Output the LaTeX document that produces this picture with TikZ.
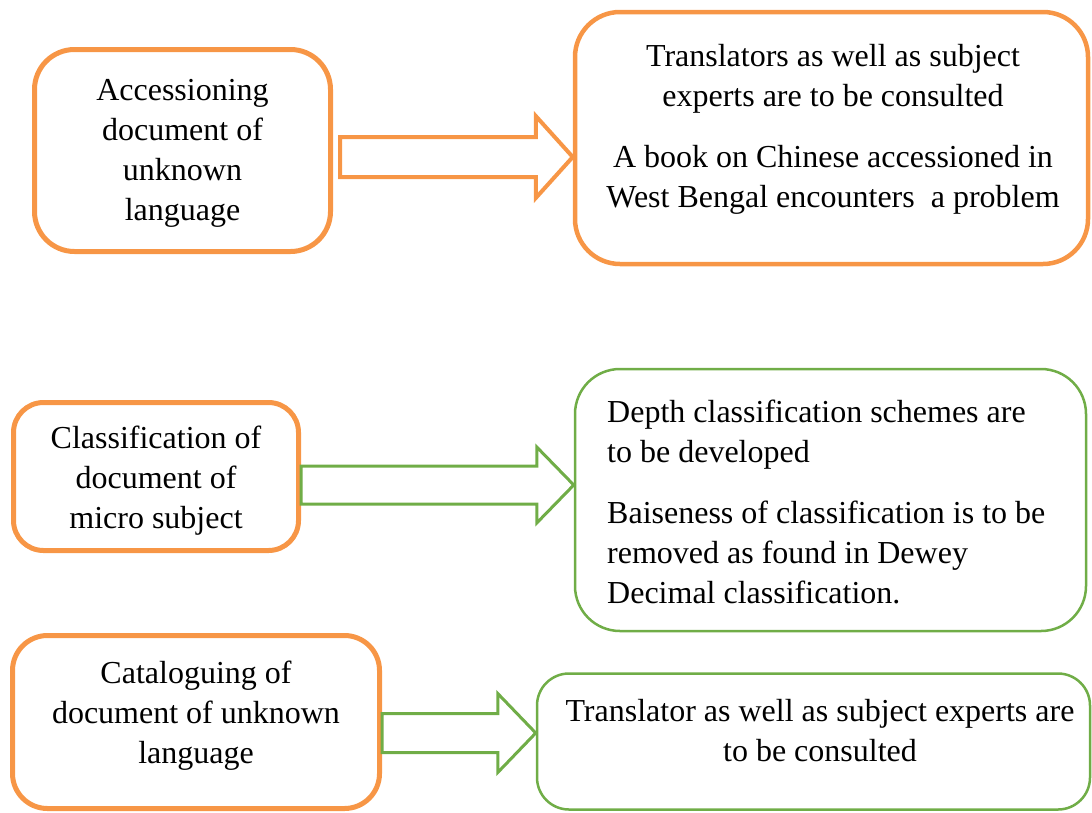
\documentclass[tikz,border=0pt]{standalone}
\usepackage{fontspec}
\setmainfont{Liberation Serif}
\usetikzlibrary{calc,positioning}
\definecolor{boxorange}{HTML}{F79646}
\definecolor{boxgreen}{HTML}{70AD47}

% hollow block arrow: style, tail, tip, shaft half width, head half width, head length
\newcommand{\blockarrow}[6]{%
  \draw[#1] let \p1=(#2), \p2=(#3) in
    (\x1,\y1-#4) -- (\x2-#6,\y1-#4) -- (\x2-#6,\y1-#5) -- (\x2,\y1)
    -- (\x2-#6,\y1+#5) -- (\x2-#6,\y1+#4) -- (\x1,\y1+#4) -- cycle;}

\begin{document}
\begin{tikzpicture}[x=1pt,y=-1pt,
    obox/.style = {draw=boxorange, line width=5pt, rectangle, inner sep=0pt},
    gbox/.style = {draw=boxgreen, line width=2.5pt, rectangle, inner sep=0pt},
    oarrow/.style = {draw=boxorange, line width=4pt, line join=miter},
    garrow/.style = {draw=boxgreen, line width=3pt, line join=miter},
    txt/.style = {inner sep=0pt, font=\fontsize{32}{40}\selectfont}]
\useasboundingbox (0,0) rectangle (1092,812);

% boxes
\node[obox, minimum width=296pt, minimum height=202pt, rounded corners=40pt] (acc) at (182.5,150.5) {};
\node[obox, line width=4.5pt, minimum width=513pt, minimum height=252pt, rounded corners=45pt] (accres) at (831.5,138) {};
\node[obox, minimum width=285pt, minimum height=148pt, rounded corners=30pt] (cls) at (156,476.5) {};
\node[gbox, minimum width=511pt, minimum height=262pt, rounded corners=45pt] (clsres) at (830.5,500) {};
\node[obox, minimum width=367pt, minimum height=173pt, rounded corners=35pt] (cat) at (196,722) {};
\node[gbox, minimum width=553pt, minimum height=136pt, rounded corners=32pt] (catres) at (813.5,741.5) {};

% texts
\node[txt, align=center] (acctxt) at (182.5,153.5) {Accessioning\\document of\\unknown\\language};
\node[txt, align=center] (accrestxt) at (833,129) {Translators as well as subject\\experts are to be consulted\\[21pt]
  A book on Chinese accessioned in\\West Bengal encounters~ a problem};
\node[txt, align=center] (clstxt) at (156,481) {Classification of\\document of\\micro subject};
\node[txt, align=left, anchor=west] (clsrestxt) at (607,502) {Depth classification schemes are\\to be developed\\[21pt]
  Baiseness of classification is to be\\removed as found in Dewey\\Decimal classification.};
\node[txt, align=center] (cattxt) at (196,716) {Cataloguing of\\document of unknown\\language};
\node[txt, align=center] (catrestxt) at (820,731) {Translator as well as subject experts are\\to be consulted};

% arrows
\coordinate (a1) at (340,157);
\coordinate (a1tip) at (accres.west |- a1);
\blockarrow{oarrow}{a1}{a1tip}{20}{41}{37}
\coordinate (a2) at (cls.east |- 0,485);
\coordinate (a2tip) at (clsres.west |- a2);
\blockarrow{garrow}{a2}{a2tip}{19}{38}{37}
\coordinate (a3) at (cat.east |- 0,733);
\coordinate (a3tip) at (catres.west |- a3);
\blockarrow{garrow}{a3}{a3tip}{19.5}{39.5}{38}
\end{tikzpicture}
\end{document}
